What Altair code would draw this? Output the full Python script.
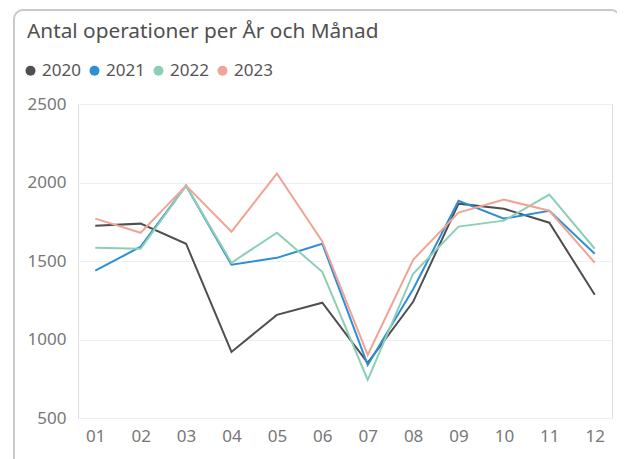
import altair as alt
import pandas as pd

months = ["01", "02", "03", "04", "05", "06", "07", "08", "09", "10", "11", "12"]
years = ["2020", "2021", "2022", "2023"]
v2020 = [1725, 1738, 1610, 921, 1157, 1234, 851, 1240, 1865, 1833, 1744, 1285]
v2021 = [1438, 1591, 1980, 1476, 1520, 1610, 838, 1320, 1884, 1770, 1820, 1546]
v2022 = [1585, 1578, 1980, 1489, 1680, 1431, 742, 1419, 1719, 1757, 1923, 1578]
v2023 = [1770, 1680, 1980, 1687, 2057, 1625, 902, 1508, 1808, 1891, 1820, 1489]
colors = ["#4f4f4f", "#2d8fd5", "#8dcfb4", "#f0a495"]
title_text = "Antal operationer per År och Månad"

rows = []
for y, vals in zip(years, [v2020, v2021, v2022, v2023]):
    for m, v in zip(months, vals):
        rows.append({"Månad": m, "År": y, "Antal": v})
df = pd.DataFrame(rows)

FONT = "Noto Sans"
W, H = 534, 314

xenc = alt.X("Månad:O", sort=months, scale=alt.Scale(type="point", padding=0.38),
             axis=alt.Axis(title=None, domain=False, ticks=False, grid=False,
                           labelAngle=0, labelPadding=10, labelFontSize=17,
                           labelColor="#777777", labelFont=FONT))
yenc = alt.Y("Antal:Q", scale=alt.Scale(domain=[500, 2500], nice=False, zero=False),
             axis=alt.Axis(title=None, domain=False, ticks=False, values=[500, 1000, 1500, 2000, 2500],
                           format="d", gridColor="#efefef", gridWidth=1, labelPadding=12,
                           labelFontSize=17, labelColor="#777777", labelFont=FONT))
cscale = alt.Scale(domain=years, range=colors)
legend = alt.Legend(title=None, orient="none", direction="horizontal",
                    legendX=-56, legendY=-42, symbolType="circle",
                    symbolSize=100, symbolStrokeWidth=0, symbolOpacity=1,
                    labelOffset=3, columnPadding=5,
                    labelFontSize=17, labelColor="#555555", labelFont=FONT)

lines = alt.Chart(df).mark_line(
    strokeWidth=2, point=alt.OverlayMarkDef(filled=True, size=0)
).encode(
    x=xenc, y=yenc, color=alt.Color("År:N", scale=cscale, legend=legend),
)

border = alt.Chart(pd.DataFrame({"k": [0]})).mark_rect(
    fill=None, stroke="#c9c9c9", strokeWidth=2, cornerRadius=9
).encode(x=alt.value(-64), x2=alt.value(542), y=alt.value(-94), y2=alt.value(380))

title = alt.Chart(pd.DataFrame({"t": [title_text]})).mark_text(
    align="left", baseline="alphabetic", fontSize=20.8, color="#505050", font=FONT
).encode(text="t:N", x=alt.value(-51), y=alt.value(-66))

chart = alt.layer(border, title, lines).properties(
    width=W, height=H,
    autosize=alt.AutoSizeParams(type="none"),
    padding={"left": 70, "top": 96, "right": 5, "bottom": 41},
).configure_view(stroke=None).configure(background="white")

chart.save("out.html", embed_options={"renderer": "svg", "actions": False})
